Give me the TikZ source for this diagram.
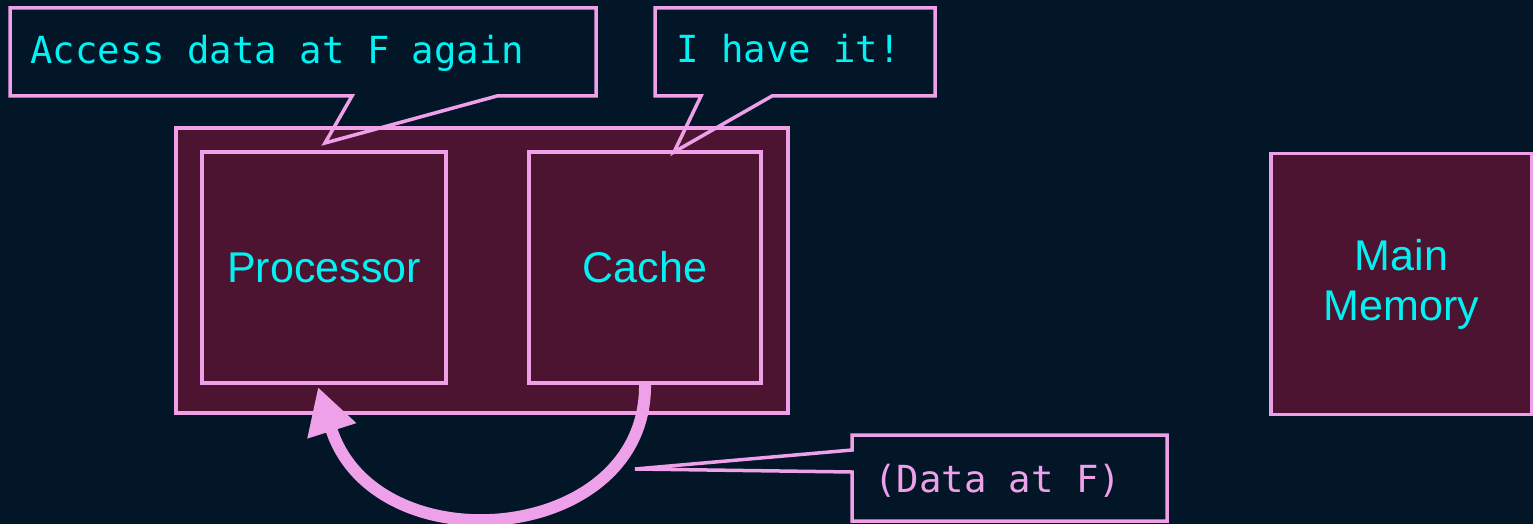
\documentclass[tikz,border=0pt]{standalone}
\usepackage{fontspec}
\setmainfont{Liberation Sans}
\newfontfamily\monofnt{DejaVu Sans Mono}
\usetikzlibrary{arrows.meta}
\definecolor{bgnavy}{HTML}{021628}
\definecolor{maroon}{HTML}{4C1430}
\definecolor{pinkline}{HTML}{EEA0E8}
\definecolor{cyantext}{HTML}{00F2F2}
\begin{document}
\begin{tikzpicture}[x=1pt,y=-1pt,
  box/.style={draw=pinkline, fill=maroon, line width=3.5pt, rectangle, inner sep=0pt, outer sep=0pt,
    text=cyantext, font=\fontsize{43}{50}\selectfont, align=center},
  callout/.style={draw=pinkline, line width=3.5pt, line join=miter},
  montext/.style={anchor=base west, inner sep=0pt, font=\monofnt\fontsize{37.3}{44}\selectfont},
  bigarrow/.style={draw=pinkline, line width=12pt, -{Triangle[length=46pt,width=48pt]}}
]
\useasboundingbox[fill=bgnavy] (0,0) rectangle (1533,524);
% boxes
\node[box, minimum width=612pt, minimum height=285pt] (outer) at (482,270.5) {};
\node[box, minimum width=244pt, minimum height=231pt] (proc) at (324,267.5) {Processor};
\node[box, minimum width=232pt, minimum height=231pt] (cache) at (645,267.5) {Cache};
\node[box, minimum width=261pt, minimum height=261pt] (mem) at (1401.5,284) {Main\\Memory};
% callout 1
\coordinate (tip1) at (325,143);
\draw[callout] (10,8) -- (596,8) -- (596,96) -- (497,96) -- (tip1) -- (352,96) -- (10,96) -- cycle;
\node[montext, text=cyantext] (t1) at (30,64) {Access data at F again};
% callout 2
\coordinate (tip2) at (674,152);
\draw[callout] (655,8) -- (935,8) -- (935,96) -- (772,96) -- (tip2) -- (701,96) -- (655,96) -- cycle;
\node[montext, text=cyantext] (t2) at (676,63) {I have it!};
% callout 3
\coordinate (tip3) at (635,469);
\draw[callout] (852,435) -- (1167,435) -- (1167,521) -- (852,521) -- (852,472) -- (tip3) -- (852,450) -- cycle;
\node[montext, text=pinkline] (t3) at (874,492) {(Data at F)};
% curved arrow
\coordinate (atip) at (318,387);
\draw[bigarrow] (cache.south) .. controls (648,545) and (375,568) .. (atip);
\end{tikzpicture}
\end{document}
